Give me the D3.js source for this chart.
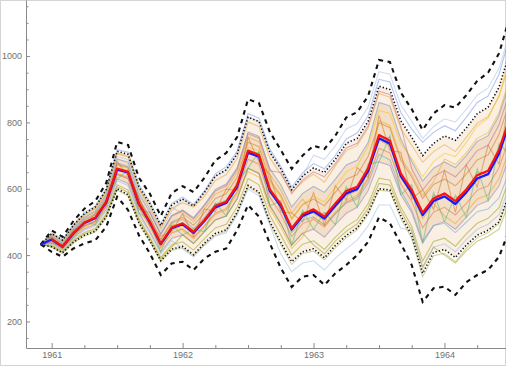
<!DOCTYPE html>
<html><head><meta charset="utf-8">
<script src="https://cdn.jsdelivr.net/npm/d3@7"></script>
<style>
html,body{margin:0;padding:0;background:#fff;}
svg{display:block;font-family:"Liberation Sans",Arial,sans-serif;}
</style></head><body>
<svg id="chart" width="506" height="366"></svg>
<script>
// ---- data ----
const months = ["1960-12",
 "1961-01","1961-02","1961-03","1961-04","1961-05","1961-06","1961-07","1961-08","1961-09","1961-10","1961-11","1961-12",
 "1962-01","1962-02","1962-03","1962-04","1962-05","1962-06","1962-07","1962-08","1962-09","1962-10","1962-11","1962-12",
 "1963-01","1963-02","1963-03","1963-04","1963-05","1963-06","1963-07","1963-08","1963-09","1963-10","1963-11","1963-12",
 "1964-01","1964-02","1964-03","1964-04","1964-05","1964-06","1964-07"];

const xTickLabels = ["1961","1962","1963","1964"];
const yTickLabels = ["200","400","600","800","1000"];

const medianPath = [null,
 448,426,467,498,513,561,661,651,556,500,435,483,
 496,470,506,548,561,611,715,702,598,553,481,523,
 538,516,556,593,606,661,762,745,646,596,528,571,
 586,563,598,641,654,717,815];
const forecast = [432,
 447,425,466,497,511,559,658,649,554,498,433,481,
 493,467,503,544,557,606,709,697,593,548,477,518,
 532,510,549,586,599,653,752,736,638,588,521,563,
 577,554,589,631,644,706,803];
const upperDashed = [432,
 474,455,503,540,563,617,741,732,633,585,518,587,
 608,590,633,686,708,756,870,858,771,717,660,700,
 730,720,760,815,831,879,988,982,890,840,777,827,
 852,845,882,925,950,1008,1120];
const upperDotted = [432,
 465,445,490,525,545,597,713,704,606,555,489,551,
 569,548,589,638,657,705,816,803,710,660,597,638,
 663,649,689,737,752,803,909,899,805,755,700,737,
 759,746,783,826,846,906,1013];
const lowerDotted = [432,
 425,407,439,460,472,515,600,582,498,443,383,418,
 426,401,436,465,476,529,610,590,500,438,380,410,
 419,392,429,459,482,528,600,596,519,460,345,408,
 417,393,430,460,475,500,590];
const lowerDashed = [432,
 410,395,420,435,445,485,576,536,460,405,340,375,
 380,355,390,410,420,475,551,516,435,361,304,335,
 340,310,345,370,400,440,514,496,435,370,259,300,
 305,280,318,340,355,395,480];

const simA = [432, 462,442,487,521,540,592,705,696,599,540,481,541, 558,545,577,625,643,691,801,788,693,644,590,621, 644,620,669,715,730,782,887,876,781,731,680,712, 733,712,755,798,817,878,983];
const simB = [432, 457,436,480,513,531,581,690,680,584,530,465,520, 536,513,552,598,614,663,771,758,660,612,545,586, 607,589,629,672,686,739,860,850,750,683,623,662, 681,664,700,743,760,821,924];
const simC = [432, 452,431,473,505,521,570,674,664,568,514,448,500, 514,490,527,571,585,635,740,727,626,580,510,552, 569,549,589,629,643,697,799,784,686,636,571,613, 629,609,644,687,702,764,865];
const simD = [432, 445,430,462,501,508,566,655,657,550,505,430,490, 490,478,500,555,556,620,708,710,590,560,472,530, 530,525,548,600,598,670,752,755,636,605,518,580, 576,572,590,650,645,728,805];
const simE = [432, 442,421,460,489,503,550,646,634,542,486,422,467, 479,453,489,527,540,591,689,674,574,524,456,495, 508,485,524,560,575,628,722,708,614,562,482,530, 544,521,556,596,609,663,759];
const simF = [432, 437,416,453,479,492,538,630,616,527,471,409,450, 461,435,471,506,518,570,662,646,549,495,430,466, 478,454,492,526,544,594,681,670,582,528,436,489, 501,478,514,550,564,608,702];
const simG = [432, 430,411,445,468,480,524,612,596,510,454,393,431, 440,415,450,482,493,545,631,612,520,461,400,433, 443,417,454,486,507,555,632,626,544,487,382,441, 451,427,464,496,511,543,635];
const simH = [432, 456,435,477,509,525,574,678,667,570,513,446,496, 508,480,514,554,565,612,714,698,591,541,468,505, 515,490,526,557,569,617,704,687,594,536,442,489, 496,468,499,531,539,572,657];
const simI = [432, 436,417,455,483,498,546,643,632,543,489,426,475, 489,465,504,548,564,618,725,715,617,574,508,554, 576,560,605,651,669,728,836,827,737,691,636,682, 707,697,740,789,813,881,993];
const simK = [432, 466,447,492,528,548,601,718,710,612,560,494,556, 575,553,594,645,666,714,826,813,720,668,605,648, 676,660,700,750,768,820,930,922,830,780,740,770, 790,775,815,860,880,945,1060];
const simL = [432, 424,405,437,457,470,512,596,578,493,440,380,414, 422,398,432,461,472,525,606,586,496,432,372,405, 412,386,422,452,476,522,596,592,510,450,335,398, 405,380,420,452,468,495,585];
const simM = [432, 458,437,481,514,532,583,671,662,566,511,446,497, 475,449,485,523,535,586,652,635,539,484,420,455, 514,491,531,566,581,634,806,791,694,644,580,621, 690,673,709,752,769,830,934];
const simN = [432, 441,420,459,487,501,547,643,630,539,528,462,517, 533,509,548,593,609,658,766,753,654,649,585,627, 651,636,676,723,737,789,894,884,789,660,597,637, 655,636,672,715,731,793,894];
const simO = [432, 463,443,488,522,542,593,708,699,601,550,484,544, 525,501,539,584,599,649,755,742,643,596,527,569, 526,504,543,580,594,648,746,730,633,582,510,555, 518,495,531,569,582,630,725];
const simP = [432, 427,409,442,464,476,520,606,589,504,449,388,424, 461,435,471,506,518,570,662,646,549,495,430,466, 431,404,442,472,494,541,616,611,532,474,363,424, 400,376,413,442,457,478,567];
const simQ = [432, 455,422,476,490,526,552,682,637,576,489,457,470, 525,456,539,531,599,595,755,680,643,530,527,500, 588,491,609,566,664,634,821,715,710,569,597,538, 655,529,672,605,731,674,894];
const simR = [432, 436,428,453,501,492,565,630,656,527,506,409,490, 461,478,471,557,518,620,662,712,549,564,430,535, 478,529,492,607,544,675,681,760,582,612,436,588, 501,581,514,660,564,736,702];
const simS = [432, 460,439,483,517,535,586,697,688,591,539,473,531, 569,548,589,638,657,705,816,803,710,660,597,638, 701,689,729,780,796,846,953,945,853,803,752,787, 811,801,839,882,904,963,1072];
const simT = [432, 434,415,450,475,488,533,624,610,521,466,404,444, 419,394,429,457,467,521,599,579,490,403,350,376, 383,355,391,419,445,488,551,551,481,474,363,424, 434,410,447,478,493,522,612];

const sims = [simA, simB, simC, simD, simE, simF, simG, simH, simI, simK, simL,
              simM, simN, simO, simP, simQ, simR, simS, simT];
const simColors = ["#E19C24","#5E81B5","#C56E1A","#8FB032","#EB6235","#8778B3","#929600","#5D9EC7","#FFBF00","#6685D9","#A9A33A",
                   "#F89F13","#BC5B80","#E19C24","#929600","#C56E1A","#47B66D","#9DB8E0","#8FB8DE"];

// ---- layout ----
const svg = d3.select("#chart");
const W = 506, H = 366;
const x = d3.scaleLinear().domain([1960.804, 1964.47]).range([26, 506]);
const y = d3.scaleLinear().domain([120, 1169]).range([348, 0]);
const t = months.map(s => { const [yy, mm] = s.split("-").map(Number); return yy + (mm - 1) / 12; });

svg.append("rect").attr("x",0.5).attr("y",0.5).attr("width",W-1).attr("height",H-1)
  .attr("fill","#fff").attr("stroke","#d4d4d4");

svg.append("defs").append("clipPath").attr("id","clip")
  .append("rect").attr("x",26).attr("y",0).attr("width",480).attr("height",348);

const plot = svg.append("g").attr("clip-path","url(#clip)");

const line = d3.line().defined(d => d[1] != null).x(d => x(d[0])).y(d => y(d[1]));
const pts = arr => arr.map((v, i) => [t[i], v]);

// density of simulation paths
const area = d3.area().x((d,i) => x(t[i])).y0(d => y(d[0])).y1(d => y(d[1]));
plot.append("path").datum(lowerDotted.map((v,i)=>[v, upperDotted[i]]))
  .attr("d", area).attr("fill","#e9bd8c").attr("opacity",0.24);
plot.append("path").datum(simF.map((v,i)=>[v, simB[i]]))
  .attr("d", area).attr("fill","#d9a266").attr("opacity",0.22);

sims.forEach((s, k) => {
  plot.append("path").datum(pts(s)).attr("d", line).attr("fill","none")
    .attr("stroke", simColors[k]).attr("stroke-width",1.1).attr("opacity",0.48);
});

// bands
[upperDotted, lowerDotted].forEach(b => {
  plot.append("path").datum(pts(b)).attr("d", line).attr("fill","none")
    .attr("stroke","#111").attr("stroke-width",1.6).attr("stroke-dasharray","1.3,2.1");
});
[upperDashed, lowerDashed].forEach(b => {
  plot.append("path").datum(pts(b)).attr("d", line).attr("fill","none")
    .attr("stroke","#111").attr("stroke-width",2.1).attr("stroke-dasharray","4.5,4.5");
});

plot.append("path").datum(pts(forecast)).attr("d", line).attr("fill","none")
  .attr("stroke","#1a1aff").attr("stroke-width",2.3).attr("stroke-linejoin","round");
plot.append("path").datum(pts(medianPath)).attr("d", line).attr("fill","none")
  .attr("stroke","#ff1010").attr("stroke-width",2.2).attr("stroke-linejoin","round");

// ---- axes ----
const axisColor = "#8a8a8a", labelColor = "#707070";
const yMajor = yTickLabels.map(Number);
const yMinor = d3.range(150, 1200, 50).filter(v => !yMajor.includes(v));
svg.append("g").attr("transform","translate(26,0)")
  .call(d3.axisLeft(y).tickValues(yMajor).tickFormat((d,i)=>yTickLabels[i]).tickSize(-4).tickSizeOuter(0).tickPadding(4));
svg.append("g").attr("transform","translate(26,0)")
  .call(d3.axisLeft(y).tickValues(yMinor).tickFormat("").tickSize(-2.5).tickSizeOuter(0))
  .select(".domain").remove();

const xMajor = xTickLabels.map(Number);
const xMinor = d3.range(1960.75, 1964.5, 0.25).filter(v => !xMajor.includes(v) && x(v) > 27);
svg.append("g").attr("transform","translate(0,348)")
  .call(d3.axisBottom(x).tickValues(xMajor).tickFormat((d,i)=>xTickLabels[i]).tickSize(-5).tickSizeOuter(0).tickPadding(4));
svg.append("g").attr("transform","translate(0,348)")
  .call(d3.axisBottom(x).tickValues(xMinor).tickFormat("").tickSize(-3).tickSizeOuter(0))
  .select(".domain").remove();

svg.selectAll(".domain, .tick line").attr("stroke", axisColor).attr("stroke-width",1);
svg.selectAll(".tick text").attr("fill", labelColor).attr("font-size","9px")
  .attr("font-family","'Liberation Sans', Arial, sans-serif");
</script>
</body></html>
